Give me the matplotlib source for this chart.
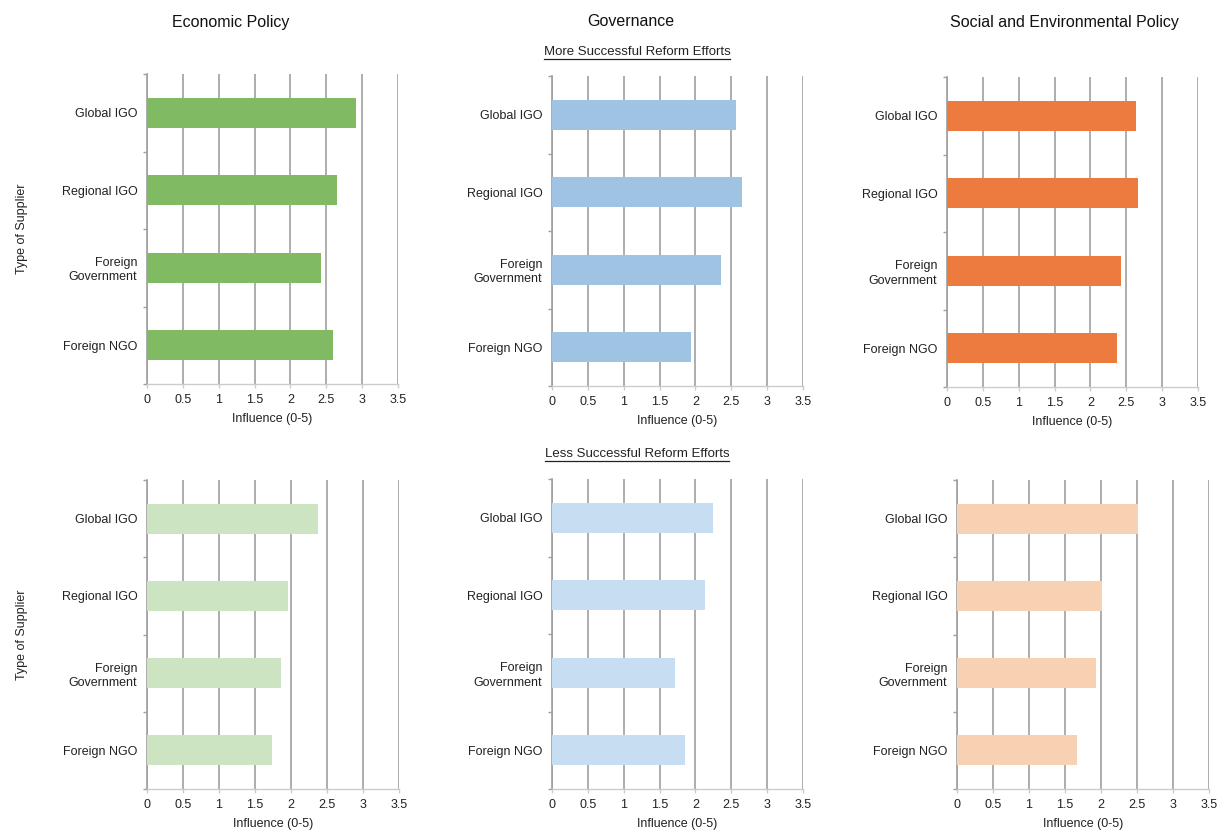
"""Supplier influence on reform efforts, by policy area."""

import numpy as np
import matplotlib.pyplot as plt
from matplotlib.lines import Line2D

plt.rcParams["font.family"] = ["Liberation Sans", "DejaVu Sans"]

suppliers = ["Global IGO", "Regional IGO", "Foreign\nGovernment", "Foreign NGO"]
policy_areas = ["Economic Policy", "Governance", "Social and Environmental Policy"]
row_titles = ["More Successful Reform Efforts", "Less Successful Reform Efforts"]

# influence (0-5), order follows suppliers
more_economic = [2.92, 2.65, 2.43, 2.59]
more_governance = [2.56, 2.65, 2.36, 1.94]
more_social = [2.63, 2.67, 2.42, 2.37]
less_economic = [2.38, 1.96, 1.86, 1.73]
less_governance = [2.24, 2.14, 1.72, 1.86]
less_social = [2.52, 2.01, 1.93, 1.66]

x_ticks = [0, 0.5, 1, 1.5, 2, 2.5, 3, 3.5]
x_tick_labels = ["0", "0.5", "1", "1.5", "2", "2.5", "3", "3.5"]

more_colors = ["#80bb63", "#9fc3e2", "#ed7b3f"]
less_colors = ["#cde4c2", "#c7ddf1", "#f8d1b3"]

W, H = 1222, 834
fig = plt.figure(figsize=(W / 100, H / 100), dpi=100)


def px_axes(left, top, right, bottom):
    return fig.add_axes([left / W, 1 - bottom / H, (right - left) / W, (bottom - top) / H])


# axes boxes in pixels: left, top, right, bottom
boxes = [
    [(147, 74, 398, 384), (552, 76, 803, 386), (947, 77, 1198, 387)],
    [(147, 480, 399, 789), (552, 479, 803, 789), (957, 480, 1209, 789)],
]
data = [
    [more_economic, more_governance, more_social],
    [less_economic, less_governance, less_social],
]
colors = [more_colors, less_colors]

GRID = "#a0a0a0"
y = np.arange(len(suppliers))

for r in range(2):
    for c in range(3):
        ax = px_axes(*boxes[r][c])
        ax.barh(y, data[r][c], height=0.39, color=colors[r][c], zorder=3)
        ax.set_xlim(0, 3.5)
        ax.set_ylim(3.5, -0.5)
        ax.set_xticks(x_ticks)
        ax.set_xticklabels(x_tick_labels, fontsize=9, color="#222222")
        ax.set_yticks(y)
        ax.set_yticklabels(suppliers, fontsize=9, color="#222222", linespacing=1.25)
        ax.set_yticks(np.arange(-0.5, 4, 1), minor=True)
        ax.tick_params(axis="y", which="major", length=0, pad=7)
        ax.tick_params(axis="y", which="minor", length=3, color=GRID, width=1)
        ax.tick_params(axis="x", length=3, color="#cccccc", width=1, pad=4)
        ax.grid(axis="x", color=GRID, lw=1.2, zorder=0)
        for side in ["top", "right"]:
            ax.spines[side].set_visible(False)
        ax.spines["left"].set_color(GRID)
        ax.spines["left"].set_linewidth(1.2)
        ax.spines["bottom"].set_color("#cccccc")
        ax.spines["bottom"].set_linewidth(1)
        ax.set_xlabel("Influence (0-5)", fontsize=9, labelpad=5, color="#222222")
        if c == 0:
            ax.set_ylabel("Type of Supplier", fontsize=9, labelpad=24, color="#222222")

# column headings
for name, cx in zip(policy_areas, [231, 631, 1064]):
    fig.text(cx / W, 1 - 22 / H, name, ha="center", va="center", fontsize=11.5, color="#111111")

# underlined row headings
fig.canvas.draw()
renderer = fig.canvas.get_renderer()
for r, ypx in enumerate([52, 454]):
    t = fig.text(637 / W, 1 - ypx / H, row_titles[r], ha="center", va="center",
                 fontsize=9.5, color="#222222")
    bb = t.get_window_extent(renderer).transformed(fig.transFigure.inverted())
    fig.add_artist(Line2D([bb.x0, bb.x1], [bb.y0 - 1 / H, bb.y0 - 1 / H],
                          transform=fig.transFigure, color="#222222", lw=0.9))

fig.savefig("out.png", dpi=100)
